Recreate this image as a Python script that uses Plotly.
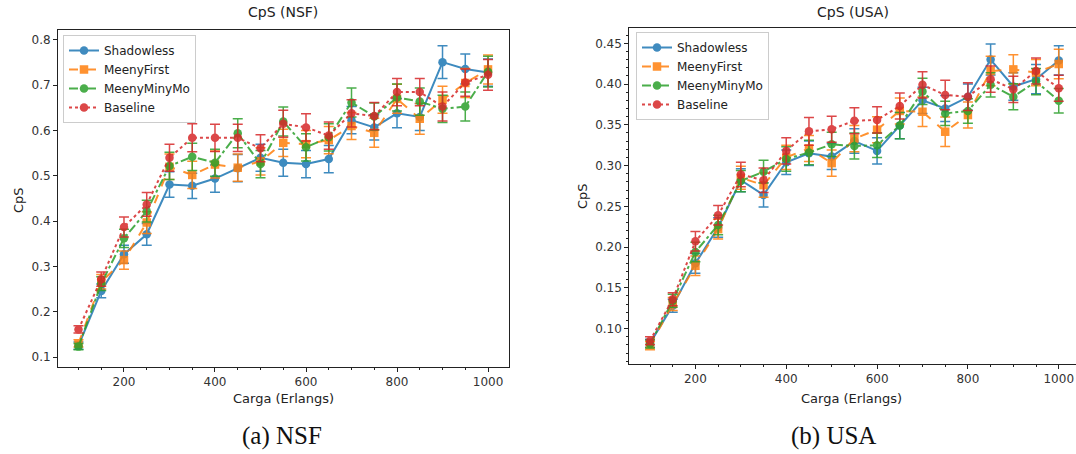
import plotly.graph_objects as go

# ---------------- data ----------------
loads = [100, 150, 200, 250, 300, 350, 400, 450, 500, 550, 600, 650, 700, 750, 800, 850, 900, 950, 1000]

# NSF
nsf_shadowless = [0.125, 0.246, 0.327, 0.371, 0.481, 0.478, 0.494, 0.517, 0.540, 0.529, 0.526, 0.537, 0.623, 0.607, 0.638, 0.630, 0.751, 0.736, 0.728]
nsf_meenyfirst = [0.130, 0.266, 0.314, 0.397, 0.520, 0.502, 0.525, 0.518, 0.532, 0.573, 0.570, 0.579, 0.610, 0.595, 0.670, 0.626, 0.668, 0.705, 0.735]
nsf_meenyminymo = [0.123, 0.262, 0.362, 0.422, 0.522, 0.542, 0.529, 0.594, 0.526, 0.620, 0.563, 0.585, 0.662, 0.631, 0.673, 0.664, 0.648, 0.653, 0.730]
nsf_baseline = [0.161, 0.272, 0.387, 0.437, 0.540, 0.584, 0.584, 0.584, 0.561, 0.615, 0.607, 0.589, 0.638, 0.632, 0.685, 0.685, 0.653, 0.706, 0.723]

nsf_shadowless_err = [0.008, 0.015, 0.020, 0.024, 0.028, 0.028, 0.030, 0.030, 0.030, 0.030, 0.030, 0.030, 0.030, 0.028, 0.032, 0.030, 0.036, 0.033, 0.030]
nsf_meenyfirst_err = [0.008, 0.016, 0.020, 0.024, 0.028, 0.030, 0.030, 0.030, 0.030, 0.030, 0.030, 0.030, 0.030, 0.032, 0.032, 0.034, 0.030, 0.032, 0.032]
nsf_meenyminymo_err = [0.007, 0.015, 0.020, 0.024, 0.030, 0.030, 0.030, 0.032, 0.030, 0.032, 0.030, 0.030, 0.032, 0.030, 0.030, 0.030, 0.030, 0.032, 0.034]
nsf_baseline_err = [0.008, 0.016, 0.022, 0.026, 0.030, 0.031, 0.030, 0.030, 0.030, 0.030, 0.030, 0.030, 0.030, 0.030, 0.030, 0.030, 0.032, 0.030, 0.034]

# USA
usa_shadowless = [0.082, 0.128, 0.180, 0.224, 0.282, 0.264, 0.304, 0.315, 0.311, 0.330, 0.318, 0.349, 0.380, 0.370, 0.384, 0.430, 0.397, 0.406, 0.429]
usa_meenyfirst = [0.079, 0.130, 0.177, 0.222, 0.285, 0.276, 0.310, 0.321, 0.303, 0.333, 0.344, 0.367, 0.366, 0.3415, 0.362, 0.416, 0.418, 0.414, 0.4246]
usa_meenyminymo = [0.081, 0.134, 0.194, 0.227, 0.281, 0.2925, 0.308, 0.316, 0.326, 0.324, 0.325, 0.349, 0.391, 0.364, 0.367, 0.399, 0.3845, 0.403, 0.3796]
usa_baseline = [0.085, 0.136, 0.207, 0.239, 0.289, 0.282, 0.318, 0.342, 0.3445, 0.355, 0.356, 0.373, 0.399, 0.3866, 0.3845, 0.406, 0.3935, 0.416, 0.3948]

usa_shadowless_err = [0.005, 0.008, 0.012, 0.012, 0.014, 0.015, 0.015, 0.015, 0.016, 0.015, 0.016, 0.016, 0.016, 0.016, 0.016, 0.019, 0.017, 0.018, 0.018]
usa_meenyfirst_err = [0.005, 0.008, 0.012, 0.012, 0.014, 0.015, 0.015, 0.016, 0.016, 0.016, 0.016, 0.016, 0.018, 0.018, 0.016, 0.018, 0.018, 0.016, 0.018]
usa_meenyminymo_err = [0.005, 0.008, 0.012, 0.012, 0.013, 0.014, 0.015, 0.015, 0.015, 0.016, 0.015, 0.016, 0.016, 0.015, 0.015, 0.015, 0.016, 0.016, 0.015]
usa_baseline_err = [0.005, 0.008, 0.012, 0.012, 0.015, 0.015, 0.016, 0.017, 0.016, 0.016, 0.016, 0.016, 0.016, 0.018, 0.017, 0.016, 0.016, 0.016, 0.016]

names = ["Shadowless", "MeenyFirst", "MeenyMinyMo", "Baseline"]
colors = ["#1f77b4", "#ff7f0e", "#2ca02c", "#d62728"]
dashes = ["solid", "dash", "dashdot", "dot"]
symbols = ["circle", "square", "circle", "circle"]

nsf_vals = [nsf_shadowless, nsf_meenyfirst, nsf_meenyminymo, nsf_baseline]
nsf_errs = [nsf_shadowless_err, nsf_meenyfirst_err, nsf_meenyminymo_err, nsf_baseline_err]
usa_vals = [usa_shadowless, usa_meenyfirst, usa_meenyminymo, usa_baseline]
usa_errs = [usa_shadowless_err, usa_meenyfirst_err, usa_meenyminymo_err, usa_baseline_err]

W, H = 1076, 454
fig = go.Figure()

def add_series(vals, errs, xa, ya, leg):
    for v, e, n, c, d, s in zip(vals, errs, names, colors, dashes, symbols):
        fig.add_trace(go.Scatter(
            x=loads, y=v, name=n, mode="lines+markers",
            xaxis=xa, yaxis=ya, legend=leg, opacity=0.85,
            line=dict(color=c, width=2, dash=d),
            marker=dict(color=c, size=8.5, symbol=s),
            error_y=dict(type="data", array=e, visible=True, color=c, thickness=1.5, width=5),
        ))

add_series(nsf_vals, nsf_errs, "x", "y", "legend")
add_series(usa_vals, usa_errs, "x2", "y2", "legend2")

tickfont = dict(family="DejaVu Sans", size=12, color="#333333")
common_x = dict(showgrid=False, zeroline=False, showline=True, linecolor="#222222", linewidth=1,
                ticks="outside", ticklen=4, tickcolor="#222222", tickfont=tickfont, automargin=False,
                tickvals=[200, 400, 600, 800, 1000],
                minor=dict(ticks="outside", ticklen=2, tickcolor="#222222", dtick=50, tick0=0))
common_y = dict(showgrid=False, zeroline=False, showline=True, linecolor="#222222", linewidth=1,
                ticks="outside", ticklen=4, tickcolor="#222222", tickfont=tickfont, automargin=False)

fig.update_layout(
    width=W, height=H, autosize=False,
    margin=dict(l=0, r=0, t=0, b=0, pad=0),
    paper_bgcolor="white", plot_bgcolor="white",
    font=dict(family="DejaVu Sans", color="#333333"),
    xaxis=dict(common_x, domain=[58 / W, 508.5 / W], range=[55, 1045], anchor="y", mirror=True),
    yaxis=dict(common_y, domain=[(H - 367) / H, (H - 30) / H], range=[0.078, 0.822],
               dtick=0.1, tick0=0, tickformat=".1f", anchor="x", mirror=True),
    xaxis2=dict(common_x, domain=[629.3 / W, 1.0], range=[54.4, 1038], anchor="y2", mirror=True),
    yaxis2=dict(common_y, domain=[(H - 364) / H, (H - 28.3) / H], range=[0.0565, 0.4684],
                dtick=0.05, tick0=0, tickformat=".2f", anchor="x2", mirror=False,
                minor=dict(ticks="outside", ticklen=2, tickcolor="#222222", dtick=0.01, tick0=0)),
    legend=dict(x=63 / W, y=1 - 35 / H, xanchor="left", yanchor="top",
                bgcolor="rgba(255,255,255,0.85)", bordercolor="#cccccc", borderwidth=1,
                font=dict(family="DejaVu Sans", size=12, color="#222222"), tracegroupgap=0),
    legend2=dict(x=636 / W, y=1 - 32 / H, xanchor="left", yanchor="top",
                 bgcolor="rgba(255,255,255,0.85)", bordercolor="#cccccc", borderwidth=1,
                 font=dict(family="DejaVu Sans", size=12, color="#222222"), tracegroupgap=0),
    showlegend=True,
)

def txt(x, y, t, size, family="DejaVu Sans", angle=0, color="#222222"):
    fig.add_annotation(x=x / W, y=1 - y / H, xref="paper", yref="paper", text=t, showarrow=False,
                       font=dict(family=family, size=size, color=color), textangle=angle,
                       xanchor="center", yanchor="middle", borderpad=0)

txt(283, 12, "CpS (NSF)", 14)
txt(853, 12, "CpS (USA)", 14)
txt(283, 398, "Carga (Erlangs)", 13)
txt(851, 398, "Carga (Erlangs)", 13)
txt(18, 200, "CpS", 13, angle=-90)
txt(582, 196, "CpS", 13, angle=-90)
txt(282, 436, "(a) NSF", 25, family="Liberation Serif", color="#111111")
txt(833, 436, "(b) USA", 25, family="Liberation Serif", color="#111111")

fig.write_html("out.html", config={"displayModeBar": False},
               post_script="document.body.style.margin='0';document.body.style.padding='0';")
